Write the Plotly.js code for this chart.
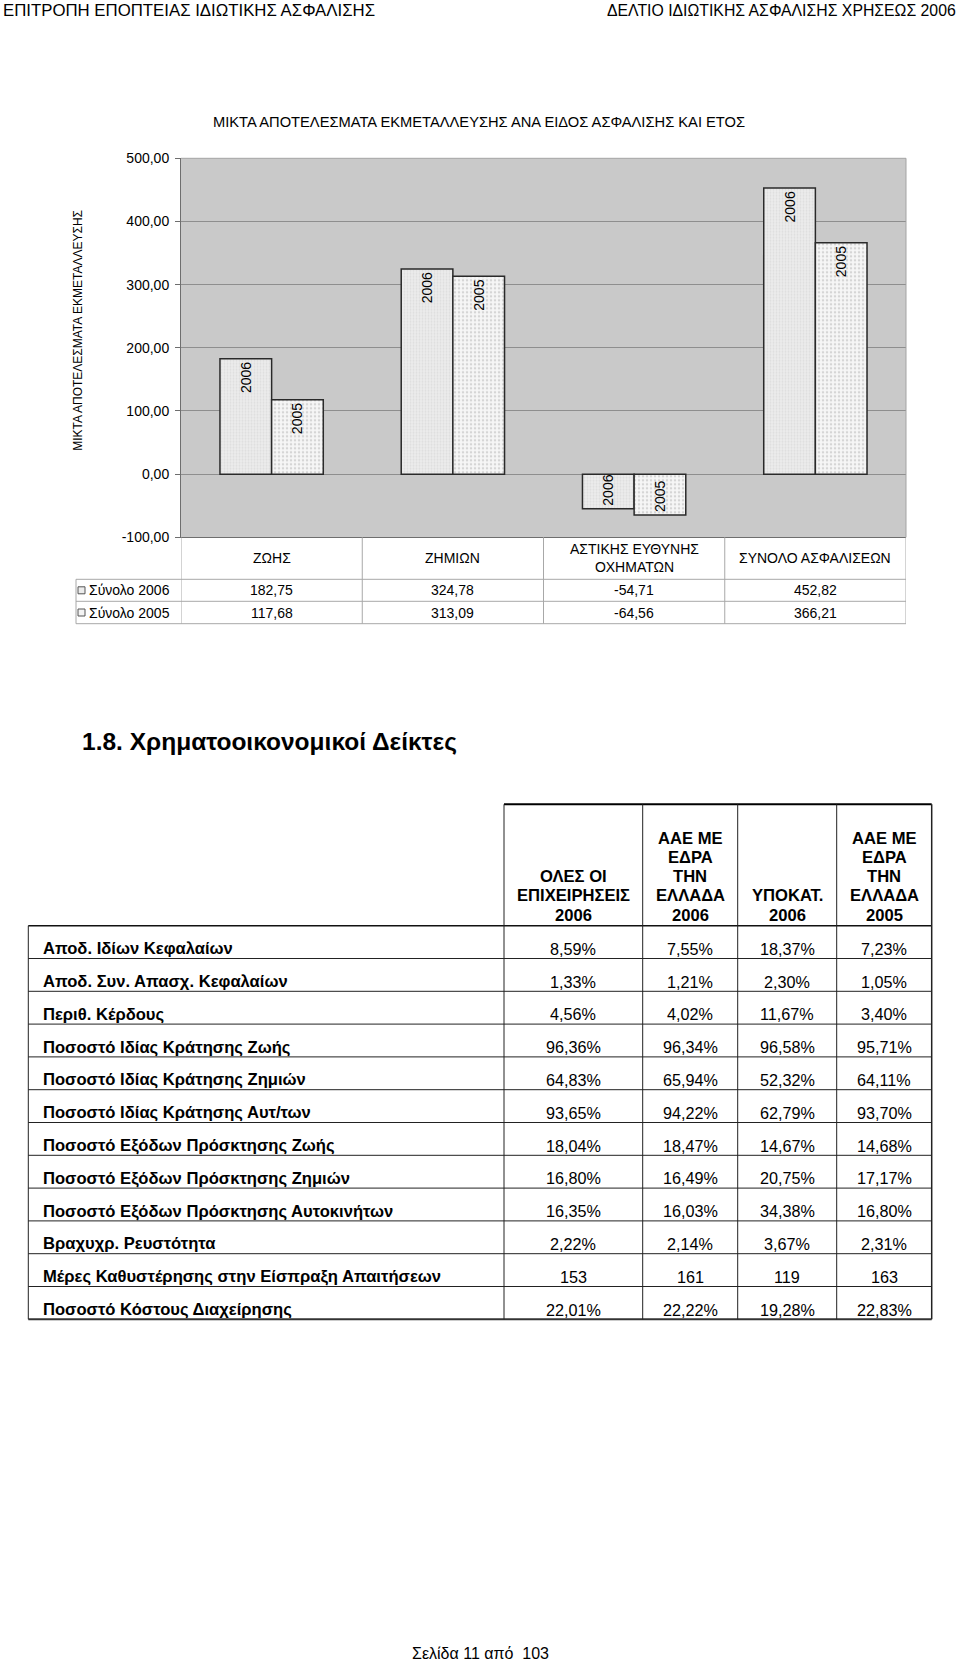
<!DOCTYPE html>
<html>
<head>
<meta charset="utf-8">
<script src="https://cdn.plot.ly/plotly-3.0.1.min.js"></script>
<style>
html,body{margin:0;padding:0;background:#ffffff;}
#chart{width:960px;height:1664px;}
</style>
</head>
<body>
<div id="chart"></div>
<script>
// ---------------- DATA ----------------
const categories = ['ΖΩΗΣ', 'ΖΗΜΙΩΝ', 'ΑΣΤΙΚΗΣ ΕΥΘΥΝΗΣ<br>ΟΧΗΜΑΤΩΝ', 'ΣΥΝΟΛΟ ΑΣΦΑΛΙΣΕΩΝ'];
const total2006 = [182.75, 324.78, -54.71, 452.82];
const total2005 = [117.68, 313.09, -64.56, 366.21];
const seriesNames = ['Σύνολο 2006', 'Σύνολο 2005'];
const barLabels = ['2006', '2005'];
const yTicks = [-100, 0, 100, 200, 300, 400, 500];

const indicatorHeaders = [
  ['ΟΛΕΣ ΟΙ', 'ΕΠΙΧΕΙΡΗΣΕΙΣ', '2006'],
  ['ΑΑΕ ΜΕ', 'ΕΔΡΑ', 'ΤΗΝ', 'ΕΛΛΑΔΑ', '2006'],
  ['ΥΠΟΚΑΤ.', '2006'],
  ['ΑΑΕ ΜΕ', 'ΕΔΡΑ', 'ΤΗΝ', 'ΕΛΛΑΔΑ', '2005']
];
const indicatorNames = [
  'Αποδ. Ιδίων Κεφαλαίων',
  'Αποδ. Συν. Απασχ. Κεφαλαίων',
  'Περιθ. Κέρδους',
  'Ποσοστό Ιδίας Κράτησης Ζωής',
  'Ποσοστό Ιδίας Κράτησης Ζημιών',
  'Ποσοστό Ιδίας Κράτησης Αυτ/των',
  'Ποσοστό Εξόδων Πρόσκτησης Ζωής',
  'Ποσοστό Εξόδων Πρόσκτησης Ζημιών',
  'Ποσοστό Εξόδων Πρόσκτησης Αυτοκινήτων',
  'Βραχυχρ. Ρευστότητα',
  'Μέρες Καθυστέρησης στην Είσπραξη Απαιτήσεων',
  'Ποσοστό Κόστους Διαχείρησης'
];
const allCompanies2006 = ['8,59%', '1,33%', '4,56%', '96,36%', '64,83%', '93,65%', '18,04%', '16,80%', '16,35%', '2,22%', '153', '22,01%'];
const greekSeat2006   = ['7,55%', '1,21%', '4,02%', '96,34%', '65,94%', '94,22%', '18,47%', '16,49%', '16,03%', '2,14%', '161', '22,22%'];
const branches2006    = ['18,37%', '2,30%', '11,67%', '96,58%', '52,32%', '62,79%', '14,67%', '20,75%', '34,38%', '3,67%', '119', '19,28%'];
const greekSeat2005   = ['7,23%', '1,05%', '3,40%', '95,71%', '64,11%', '93,70%', '14,68%', '17,17%', '16,80%', '2,31%', '163', '22,83%'];

const headerLeft = 'ΕΠΙΤΡΟΠΗ ΕΠΟΠΤΕΙΑΣ ΙΔΙΩΤΙΚΗΣ ΑΣΦΑΛΙΣΗΣ';
const headerRight = 'ΔΕΛΤΙΟ ΙΔΙΩΤΙΚΗΣ ΑΣΦΑΛΙΣΗΣ ΧΡΗΣΕΩΣ 2006';
const chartTitle = 'ΜΙΚΤΑ ΑΠΟΤΕΛΕΣΜΑΤΑ ΕΚΜΕΤΑΛΛΕΥΣΗΣ ΑΝΑ ΕΙΔΟΣ ΑΣΦΑΛΙΣΗΣ ΚΑΙ ΕΤΟΣ';
const yTitle = 'ΜΙΚΤΑ ΑΠΟΤΕΛΕΣΜΑΤΑ ΕΚΜΕΤΑΛΛΕΥΣΗΣ';
const sectionTitle = '1.8. Χρηματοοικονομικοί Δείκτες';
const footer = 'Σελίδα 11 από  103';

// ---------------- LAYOUT HELPERS ----------------
const W = 960, H = 1664;
const X = p => p / W;
const Y = p => 1 - p / H;
const FONT = 'Liberation Sans, Arial, Helvetica, sans-serif';
const fmt = v => v.toFixed(2).replace('.', ',');

const plot = { l: 181, r: 906, t: 158.3, b: 537.3 };
const dt = { headLeft: 76, catBottom: 579.3, rows: [579.3, 601.3, 623.7] };
const it = { cols: [28.3, 504, 642.7, 737.7, 836.7, 931.7], headTop: 804.3, bodyTop: 925.7, rowH: 32.8 };

const annotations = [];
const shapes = [];
function txt(o) {
  annotations.push(Object.assign({ showarrow: false, xref: 'paper', yref: 'paper' }, o,
    { font: Object.assign({ family: FONT, size: 14, color: '#000' }, o.font || {}) }));
}
function hline(x0, x1, y, color, width) {
  shapes.push({ type: 'line', xref: 'paper', yref: 'paper', x0: X(x0), x1: X(x1), y0: Y(y), y1: Y(y), line: { color: color, width: width } });
}
function vline(x, y0, y1, color, width) {
  shapes.push({ type: 'line', xref: 'paper', yref: 'paper', x0: X(x), x1: X(x), y0: Y(y0), y1: Y(y1), line: { color: color, width: width } });
}

// page header / titles
txt({ text: headerLeft, x: X(1), y: Y(10.5), xanchor: 'left', yanchor: 'middle', font: { size: 16.8 } });
txt({ text: headerRight, x: X(958), y: Y(10.5), xanchor: 'right', yanchor: 'middle', font: { size: 15.8 } });
txt({ text: chartTitle, x: X(479), y: Y(122), xanchor: 'center', yanchor: 'middle', font: { size: 14.7 } });
txt({ text: yTitle, x: X(78), y: Y(330.8), xanchor: 'center', yanchor: 'middle', textangle: -90, font: { size: 12 } });

// plot border (top/right)
hline(plot.l, plot.r, plot.t, '#a3a3a3', 1);
vline(plot.r, plot.t, plot.b, '#a3a3a3', 1);

// chart data table
const tblColor = '#a8a8a8';
dt.rows.forEach(y => hline(dt.headLeft, plot.r, y, tblColor, 1));
vline(dt.headLeft, dt.rows[0], dt.rows[2], tblColor, 1);
for (let i = 0; i <= categories.length; i++) {
  shapes.push({ type: 'line', xref: 'x', yref: 'paper', x0: i - 0.5, x1: i - 0.5, y0: Y(plot.b), y1: Y(dt.rows[2]), line: { color: tblColor, width: 1 } });
}
categories.forEach((c, i) => {
  txt({ text: c, xref: 'x', x: i, y: Y((plot.b + dt.catBottom) / 2), xanchor: 'center', yanchor: 'middle' });
});
[total2006, total2005].forEach((series, s) => {
  const yc = (dt.rows[s] + dt.rows[s + 1]) / 2;
  series.forEach((v, i) => {
    txt({ text: fmt(v), xref: 'x', x: i, y: Y(yc), xanchor: 'center', yanchor: 'middle' });
  });
  txt({ text: seriesNames[s], x: X(86.5), y: Y(yc), xanchor: 'left', yanchor: 'middle' });
  shapes.push({ type: 'rect', xref: 'paper', yref: 'paper', x0: X(78), x1: X(85), y0: Y(yc - 3.5), y1: Y(yc + 3.5),
    line: { color: '#555555', width: 1 }, fillcolor: s === 0 ? '#ececec' : '#f4f4f4' });
});

// section heading
txt({ text: '<b>' + sectionTitle + '</b>', x: X(80), y: Y(741), xanchor: 'left', yanchor: 'middle', font: { size: 24.5 } });

// indicators table
const nRows = indicatorNames.length;
const bodyBottom = it.bodyTop + nRows * it.rowH;
hline(it.cols[1], it.cols[5], it.headTop, '#000', 2);
hline(it.cols[0], it.cols[5], it.bodyTop, '#111', 1.5);
for (let r = 1; r < nRows; r++) hline(it.cols[0], it.cols[5], it.bodyTop + r * it.rowH, '#222', 1);
hline(it.cols[0], it.cols[5], bodyBottom, '#333', 2);
vline(it.cols[0], it.bodyTop, bodyBottom, '#222', 1);
for (let c = 1; c <= 4; c++) vline(it.cols[c], it.headTop, bodyBottom, '#222', 1);
vline(it.cols[5], it.headTop, bodyBottom, '#222', 1.5);

indicatorHeaders.forEach((lines, c) => {
  const xc = (it.cols[c + 1] + it.cols[c + 2]) / 2;
  const n = lines.length;
  lines.forEach((line, k) => {
    const yc = it.bodyTop - 10.7 - (n - 1 - k) * 19.2;
    txt({ text: '<b>' + line + '</b>', x: X(xc), y: Y(yc), xanchor: 'center', yanchor: 'middle', font: { size: 16.6 } });
  });
});
const valueCols = [allCompanies2006, greekSeat2006, branches2006, greekSeat2005];
indicatorNames.forEach((name, r) => {
  const yc = it.bodyTop + r * it.rowH + 23;
  txt({ text: '<b>' + name + '</b>', x: X(40.5), y: Y(yc), xanchor: 'left', yanchor: 'middle', font: { size: 16.6 } });
  valueCols.forEach((col, c) => {
    const xc = (it.cols[c + 1] + it.cols[c + 2]) / 2;
    txt({ text: col[r], x: X(xc), y: Y(yc), xanchor: 'center', yanchor: 'middle', font: { size: 16.2 } });
  });
});

// footer
txt({ text: footer, x: X(480), y: Y(1653), xanchor: 'center', yanchor: 'middle', font: { size: 16 } });

// ---------------- TRACES ----------------
const traces = [
  {
    type: 'bar', name: seriesNames[0], x: categories, y: total2006,
    text: total2006.map(() => barLabels[0]), textposition: 'inside', insidetextanchor: 'end',
    textangle: -90, constraintext: 'none', cliponaxis: false,
    textfont: { family: FONT, size: 14, color: '#000' },
    marker: {
      color: '#ebebeb', line: { color: '#2a2a2a', width: 1.5 },
      pattern: { shape: '.', fillmode: 'overlay', fgcolor: '#cfcfcf', size: 3, solidity: 0.35 }
    },
    hoverinfo: 'skip'
  },
  {
    type: 'bar', name: seriesNames[1], x: categories, y: total2005,
    text: total2005.map(() => barLabels[1]), textposition: 'inside', insidetextanchor: 'end',
    textangle: -90, constraintext: 'none', cliponaxis: false,
    textfont: { family: FONT, size: 14, color: '#000' },
    marker: {
      color: '#f6f6f6', line: { color: '#2a2a2a', width: 1.5 },
      pattern: { shape: '.', fillmode: 'overlay', fgcolor: '#b3b3b3', size: 4, solidity: 0.3 }
    },
    hoverinfo: 'skip'
  }
];

const layout = {
  width: W, height: H,
  margin: { l: 0, r: 0, t: 0, b: 0 },
  paper_bgcolor: '#ffffff',
  plot_bgcolor: '#c9c9c9',
  separators: ',.',
  showlegend: false,
  barmode: 'group', bargap: 0.43, bargroupgap: 0,
  font: { family: FONT, size: 14, color: '#000' },
  xaxis: {
    domain: [X(plot.l), X(plot.r)], type: 'category', range: [-0.5, 3.5],
    showticklabels: false, ticks: '', showgrid: false, zeroline: false,
    showline: true, linecolor: '#6e6e6e', linewidth: 1, fixedrange: true
  },
  yaxis: {
    domain: [Y(plot.b), Y(plot.t)], range: [-100, 500],
    tickmode: 'array', tickvals: yTicks, ticktext: yTicks.map(fmt),
    ticks: 'outside', ticklen: 5, tickcolor: '#6e6e6e', ticklabelstandoff: 3,
    tickfont: { family: FONT, size: 14, color: '#000' },
    showline: true, linecolor: '#6e6e6e', linewidth: 1,
    showgrid: true, gridcolor: '#8e8e8e', gridwidth: 1, zeroline: false, fixedrange: true
  },
  annotations: annotations,
  shapes: shapes
};

Plotly.newPlot('chart', traces, layout, { staticPlot: true, displayModeBar: false });
</script>
</body>
</html>
